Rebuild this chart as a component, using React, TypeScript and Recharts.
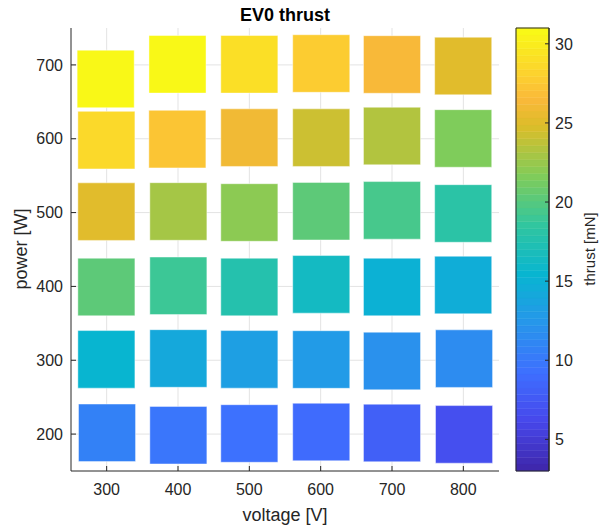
import { ComposedChart, XAxis, YAxis, CartesianGrid, ReferenceArea } from "recharts";

const voltageTicks = [300, 400, 500, 600, 700, 800];
const powerTicks = [200, 300, 400, 500, 600, 700];
const thrustTicks = [5, 10, 15, 20, 25, 30];

// measured operating points, one row per power setpoint (200 W first)
const measuredVoltage = [
  [300.5, 400.5, 500, 600.8, 700, 801],
  [299.6, 400.5, 500, 600.8, 700, 801],
  [299.6, 400.5, 500, 600.8, 700, 799.8],
  [299.6, 400.5, 500, 600.8, 700, 799.8],
  [299.6, 399.1, 500, 600.8, 700, 799.8],
  [298.6, 399.3, 500, 600.8, 700, 799.8],
];

const measuredPower = [
  [201.7, 198.5, 200.8, 202.8, 201.5, 199.6],
  [301.2, 302.4, 301.2, 301, 299, 302.2],
  [399.2, 400.8, 399.2, 402.8, 399.2, 401.9],
  [501.3, 501.5, 500.1, 501.9, 503, 498.8],
  [598.1, 599.5, 601.5, 601.5, 603.7, 600.4],
  [681, 700.8, 700.8, 701.9, 700.6, 698.5],
];

const thrust = [
  [10.7, 9.9, 9.3, 8.8, 8.0, 6.9],
  [15.3, 14.3, 13.3, 12.8, 11.9, 11.4],
  [20.1, 19.0, 17.5, 16.2, 15.2, 14.8],
  [25.0, 23.1, 22.2, 20.4, 19.2, 18.3],
  [28.8, 27.4, 25.8, 24.4, 23.2, 21.7],
  [30.8, 30.7, 28.9, 27.9, 26.5, 24.9],
];

const thrustMin = 3;
const thrustMax = 31;
const halfWidth = 40; // V
const halfHeight = 39; // W
const nColors = 64;

// parula-ish colormap stops [t, r, g, b]
const parulaStops = [
  [0, 62, 38, 168],
  [1 / 9, 71, 71, 235],
  [2 / 9, 62, 111, 255],
  [3 / 9, 39, 150, 235],
  [4 / 9, 8, 181, 208],
  [5 / 9, 49, 198, 159],
  [6 / 9, 129, 204, 89],
  [7 / 9, 220, 189, 41],
  [0.84, 250, 185, 58],
  [8 / 9, 252, 207, 48],
  [1, 249, 251, 21],
];

function parula(t: number) {
  const x = Math.max(0, Math.min(1, t));
  for (let i = 1; i < parulaStops.length; i++) {
    const a = parulaStops[i - 1];
    const b = parulaStops[i];
    if (x <= b[0]) {
      const f = (x - a[0]) / (b[0] - a[0]);
      const c = [1, 2, 3].map((k) => Math.round(a[k] + (b[k] - a[k]) * f));
      return `rgb(${c[0]},${c[1]},${c[2]})`;
    }
  }
  return "rgb(249,251,21)";
}

function colorFor(value: number) {
  const t = (value - thrustMin) / (thrustMax - thrustMin);
  const idx = Math.max(0, Math.min(nColors - 1, Math.floor(t * nColors)));
  return parula((idx + 0.5) / nColors);
}

const cells = thrust.flatMap((row, r) =>
  row.map((value, c) => ({
    v: measuredVoltage[r][c],
    p: measuredPower[r][c],
    value,
    color: colorFor(value),
  }))
);

// colorbar bands, left edge at 0 and right edge at 1
const bands = Array.from({ length: nColors }, (_, i) => ({
  lo: 0,
  hi: 1,
  y1: thrustMin + (i * (thrustMax - thrustMin)) / nColors,
  y2: thrustMin + ((i + 1) * (thrustMax - thrustMin)) / nColors,
  color: parula((i + 0.5) / nColors),
}));

const ink = "#262626";
const tickStyle = { fontSize: 16, fill: ink };

export default function App() {
  return (
    <div
      style={{
        position: "absolute",
        left: 0,
        top: 0,
        width: 605,
        height: 527,
        background: "#fff",
        fontFamily: "'Liberation Sans', Arial, Helvetica, sans-serif",
      }}
    >
      <div style={{ position: "absolute", left: 0, top: 0 }}>
        <ComposedChart
          width={605}
          height={527}
          data={cells}
          margin={{ top: 28, right: 106, bottom: 55, left: 70 }}
        >
          <CartesianGrid stroke="#e3e3e3" syncWithTicks />
          <XAxis
            type="number"
            dataKey="v"
            domain={[250, 850]}
            ticks={voltageTicks}
            interval={0}
            allowDataOverflow
            height={1}
            tickSize={-5}
            tickMargin={18}
            axisLine={{ stroke: ink }}
            tickLine={{ stroke: ink }}
            tick={tickStyle}
          />
          <YAxis
            type="number"
            dataKey="p"
            domain={[150, 750]}
            ticks={powerTicks}
            interval={0}
            allowDataOverflow
            width={1}
            tickSize={-5}
            tickMargin={13}
            axisLine={{ stroke: ink }}
            tickLine={{ stroke: ink }}
            tick={tickStyle}
          />
          {cells.map((c, i) => (
            <ReferenceArea
              key={i}
              x1={c.v - halfWidth}
              x2={c.v + halfWidth}
              y1={c.p - halfHeight}
              y2={c.p + halfHeight}
              fill={c.color}
              fillOpacity={1}
              stroke="#ffffff"
              strokeOpacity={0.45}
            />
          ))}
        </ComposedChart>
      </div>

      <div style={{ position: "absolute", left: 0, top: 0 }}>
        <ComposedChart
          width={605}
          height={527}
          data={bands}
          margin={{ top: 28, right: 55, bottom: 56, left: 516 }}
        >
          <XAxis type="number" dataKey="hi" domain={[0, 1]} allowDataOverflow hide />
          <YAxis
            type="number"
            orientation="right"
            dataKey="y2"
            domain={[thrustMin, thrustMax]}
            ticks={thrustTicks}
            interval={0}
            allowDataOverflow
            width={1}
            tickSize={-4}
            tickMargin={10}
            axisLine={{ stroke: ink }}
            tickLine={{ stroke: ink }}
            tick={tickStyle}
          />
          {bands.map((b, i) => (
            <ReferenceArea
              key={i}
              x1={b.lo}
              x2={b.hi}
              y1={b.y1}
              y2={b.y2}
              fill={b.color}
              fillOpacity={1}
              stroke={b.color}
              strokeWidth={0.5}
            />
          ))}
          <ReferenceArea
            x1={0}
            x2={1}
            y1={thrustMin}
            y2={thrustMax}
            fill="none"
            stroke={ink}
            strokeWidth={1}
          />
        </ComposedChart>
      </div>

      <svg
        width={605}
        height={527}
        style={{ position: "absolute", left: 0, top: 0, pointerEvents: "none" }}
      >
        <text x={285} y={21} textAnchor="middle" fontSize={18} fontWeight="bold" fill="#000">
          EV0 thrust
        </text>
        <text x={285} y={521} textAnchor="middle" fontSize={18} fill={ink}>
          voltage [V]
        </text>
        <text
          x={27}
          y={249}
          textAnchor="middle"
          fontSize={18}
          fill={ink}
          transform="rotate(-90 27 249)"
        >
          power [W]
        </text>
        <text
          x={595}
          y={249}
          textAnchor="middle"
          fontSize={15}
          fill={ink}
          transform="rotate(-90 595 249)"
        >
          thrust [mN]
        </text>
      </svg>
    </div>
  );
}
